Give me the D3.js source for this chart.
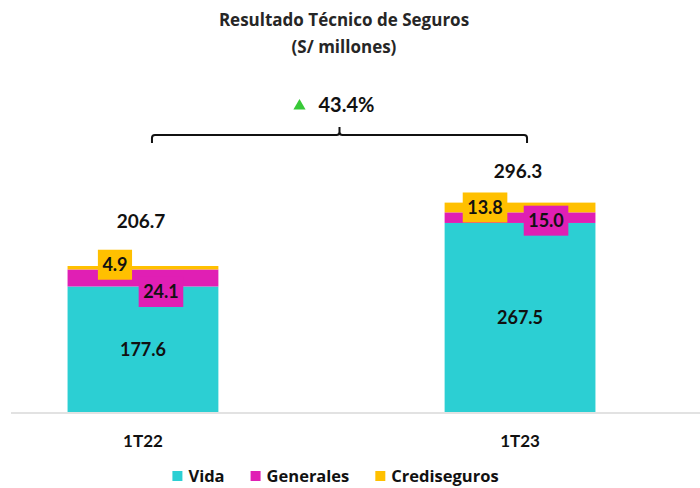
<!DOCTYPE html>
<html>
<head>
<meta charset="utf-8">
<script src="https://cdn.jsdelivr.net/npm/d3@7"></script>
<style>
  body { margin: 0; background: #fff; }
  svg { display: block; font-family: Lato, "Open Sans", sans-serif; font-weight: bold; }
  .wide { font-family: "Open Sans", sans-serif; }
</style>
</head>
<body>
<svg id="chart" width="700" height="488"></svg>
<script>
// data
const categories = ["1T22", "1T23"];
const seriesNames = ["Vida", "Generales", "Crediseguros"];
const vida = [177.6, 267.5];
const generales = [24.1, 15.0];
const crediseguros = [4.9, 13.8];
const totals = [206.7, 296.3];
const growthLabel = "43.4%";

const colors = ["#2ccfd3", "#e01fb4", "#ffc000"];

// hand placed label nudges (the original labels were dragged off the segments)
const boxNudge = {
  Generales: [[18, 14], [26, 3]],
  Crediseguros: [[-28, -3], [-35, 0]]
};
const totalDy = [-38, -25];

const svg = d3.select("#chart");

const x = d3.scaleBand()
    .domain(categories)
    .range([11, 652])
    .paddingInner(0.6)
    .paddingOuter(0.15);

const y = d3.scaleLinear()
    .domain([0, 300])
    .range([412, 200]);

const table = categories.map((c, i) => ({
    cat: c, Vida: vida[i], Generales: generales[i], Crediseguros: crediseguros[i]
}));
const stacked = d3.stack().keys(seriesNames)(table);

// title
svg.append("text").attr("class", "wide").attr("x", 344).attr("y", 26).attr("text-anchor", "middle")
    .attr("font-size", 17).attr("fill", "#262626").text("Resultado Técnico de Seguros");
svg.append("text").attr("class", "wide").attr("x", 344).attr("y", 53).attr("text-anchor", "middle")
    .attr("font-size", 17).attr("fill", "#262626").text("(S/ millones)");

// baseline
svg.append("line")
    .attr("x1", 11).attr("x2", 700)
    .attr("y1", y(0) + 1).attr("y2", y(0) + 1)
    .attr("stroke", "#d9d9d9").attr("stroke-width", 1.5);

// bars
svg.append("g").selectAll("g")
    .data(stacked)
    .join("g")
    .attr("fill", (d, i) => colors[i])
  .selectAll("rect")
    .data(d => d)
    .join("rect")
    .attr("x", d => x(d.data.cat))
    .attr("y", d => y(d[1]))
    .attr("width", x.bandwidth())
    .attr("height", d => y(d[0]) - y(d[1]));

// Vida labels inside the segment
svg.append("g").selectAll("text")
    .data(stacked[0])
    .join("text")
    .attr("x", d => x(d.data.cat) + x.bandwidth() / 2)
    .attr("y", d => (y(d[0]) + y(d[1])) / 2)
    .attr("dy", "0.36em")
    .attr("text-anchor", "middle")
    .attr("font-size", 18)
    .attr("fill", "#111")
    .text(d => d3.format(".1f")(d[1] - d[0]));

// boxed labels for the thin segments
[2, 1].forEach(si => {
    const key = seriesNames[si];
    stacked[si].forEach((d, i) => {
        const cx = x(d.data.cat) + x.bandwidth() / 2 + boxNudge[key][i][0];
        const cy = (y(d[0]) + y(d[1])) / 2 + boxNudge[key][i][1];
        const g = svg.append("g");
        const t = g.append("text")
            .attr("x", cx).attr("y", cy).attr("dy", "0.36em")
            .attr("text-anchor", "middle")
            .attr("font-size", 18).attr("fill", "#111")
            .text(d3.format(".1f")(d[1] - d[0]));
        const w = t.node().getComputedTextLength() + 9;
        g.insert("rect", "text")
            .attr("x", cx - w / 2).attr("y", cy - 15)
            .attr("width", w).attr("height", 30)
            .attr("fill", colors[si]);
    });
});

// totals
svg.append("g").selectAll("text")
    .data(totals)
    .join("text")
    .attr("x", (d, i) => x(categories[i]) + x.bandwidth() / 2 - 2)
    .attr("y", (d, i) => y(d) + totalDy[i])
    .attr("text-anchor", "middle")
    .attr("font-size", 19)
    .attr("fill", "#111")
    .text(d => d3.format(".1f")(d));

// category labels
svg.append("g").selectAll("text")
    .data(categories)
    .join("text")
    .attr("x", d => x(d) + x.bandwidth() / 2)
    .attr("y", 447)
    .attr("text-anchor", "middle")
    .attr("font-size", 17)
    .attr("fill", "#111")
    .text(d => d);

// growth bracket
const bx1 = x(categories[0]) + x.bandwidth() / 2 + 9;
const bx2 = x(categories[1]) + x.bandwidth() / 2 + 7;
const bmid = (bx1 + bx2) / 2;
const by = 135;
svg.append("path")
    .attr("d", `M${bx1},${by + 8} L${bx1},${by + 3} Q${bx1},${by} ${bx1 + 3},${by}
                L${bmid - 3},${by} Q${bmid},${by} ${bmid},${by - 3} L${bmid},${by - 8}
                M${bmid},${by - 3} Q${bmid},${by} ${bmid + 3},${by}
                L${bx2 - 3},${by} Q${bx2},${by} ${bx2},${by + 3} L${bx2},${by + 8}`)
    .attr("fill", "none")
    .attr("stroke", "#111")
    .attr("stroke-width", 2);

svg.append("path")
    .attr("d", d3.symbol().type(d3.symbolTriangle).size(64)())
    .attr("transform", `translate(${bmid - 40},${by - 29})`)
    .attr("fill", "#38c938");

svg.append("text")
    .attr("x", bmid - 21).attr("y", by - 23)
    .attr("font-size", 20).attr("fill", "#111")
    .text(growthLabel);

// legend
const legend = svg.append("g");
let lx = 0;
seriesNames.forEach((name, i) => {
    const g = legend.append("g").attr("transform", `translate(${lx},0)`);
    g.append("rect").attr("x", 0).attr("y", -5).attr("width", 10).attr("height", 10).attr("fill", colors[i]);
    const t = g.append("text").attr("class", "wide").attr("x", 16).attr("dy", "0.36em")
        .attr("font-size", 16.5).attr("fill", "#111").text(name);
    lx += 16 + t.node().getComputedTextLength() + 26;
});
const legendWidth = lx - 26;
legend.attr("transform", `translate(${335.5 - legendWidth / 2},476)`);
</script>
</body>
</html>
